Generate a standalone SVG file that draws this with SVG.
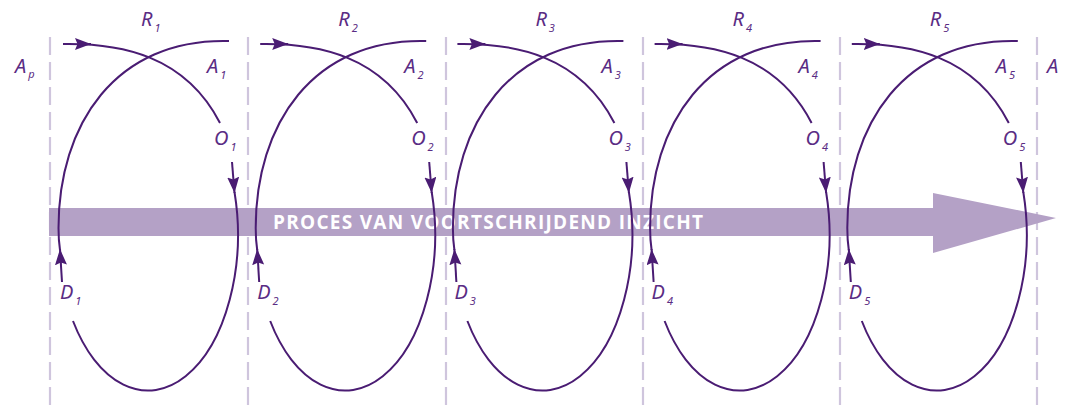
<svg xmlns="http://www.w3.org/2000/svg" width="1065" height="407" viewBox="0 0 1065 407">
<style>
.dash{stroke:#cfc5dd;stroke-width:2.2;stroke-dasharray:18 7;fill:none}
.curve{stroke:#4a1c73;stroke-width:2;fill:none}
.lead{stroke:#4a1c73;stroke-width:2;fill:none;marker-end:url(#ah)}
.lbl{font-family:"Noto Sans","Liberation Sans",sans-serif;font-style:italic;font-size:20px;fill:#5a2c84}
.sub{font-size:11px}
.band{fill:#b4a1c6}
.title{font-family:"Open Sans","Liberation Sans",sans-serif;font-weight:700;font-size:19px;fill:#ffffff}
</style>
<defs>
<marker id="ah" markerUnits="userSpaceOnUse" markerWidth="17" markerHeight="13" refX="16" refY="6" orient="auto">
<path d="M0,0 L16,6 L0,12 L2.5,6 z" fill="#4a1c73"/>
</marker>
<g id="loop">
<path class="curve" d="M63,44 C120,43 185,55 220,123"/>
<path class="lead" d="M78,44 L91,44"/>
<path class="lead" d="M232,162 L234.5,193"/>
<path class="curve" d="M234.5,192 A90,156 0 0 1 73,321"/>
<path class="lead" d="M62,282 L60,249"/>
<path class="curve" d="M60,250 Q58.5,240 58.5,228 C58.5,125 115,38 229,41"/>
</g>
</defs>
<g id="guides">
<line class="dash" x1="50" y1="37" x2="50" y2="407"/>
<line class="dash" x1="248" y1="37" x2="248" y2="407"/>
<line class="dash" x1="446" y1="37" x2="446" y2="407"/>
<line class="dash" x1="643" y1="37" x2="643" y2="407"/>
<line class="dash" x1="840" y1="37" x2="840" y2="407"/>
<line class="dash" x1="1037" y1="37" x2="1037" y2="407"/>
</g>
<g id="process-arrow">
<path class="band" d="M49,208 L933,208 L933,193 L1056,218 L933,253 L933,236 L49,236 z"/>
<text class="title" x="273" y="229" textLength="430" lengthAdjust="spacing">PROCES VAN VOORTSCHRIJDEND INZICHT</text>
</g>
<g id="connectors">
<use href="#loop"/>
<use href="#loop" x="197.2"/>
<use href="#loop" x="394.4"/>
<use href="#loop" x="591.6"/>
<use href="#loop" x="788.8"/>
</g>
<g id="label-Ap"><text class="lbl" x="15" y="73">A<tspan class="sub" dx="2" dy="5">p</tspan></text></g>
<g id="label-A-end"><text class="lbl" x="1047" y="73">A</text></g>
<g id="cycle-1">
<text class="lbl" x="141" y="26">R<tspan class="sub" dx="2" dy="6">1</tspan></text>
<text class="lbl" x="207" y="73">A<tspan class="sub" dx="2" dy="6">1</tspan></text>
<text class="lbl" x="214" y="145">O<tspan class="sub" dx="2" dy="6">1</tspan></text>
<text class="lbl" x="60" y="299">D<tspan class="sub" dx="2" dy="6">1</tspan></text>
</g>
<g id="cycle-2" transform="translate(197.2,0)">
<text class="lbl" x="141" y="26">R<tspan class="sub" dx="2" dy="6">2</tspan></text>
<text class="lbl" x="207" y="73">A<tspan class="sub" dx="2" dy="6">2</tspan></text>
<text class="lbl" x="214" y="145">O<tspan class="sub" dx="2" dy="6">2</tspan></text>
<text class="lbl" x="60" y="299">D<tspan class="sub" dx="2" dy="6">2</tspan></text>
</g>
<g id="cycle-3" transform="translate(394.4,0)">
<text class="lbl" x="141" y="26">R<tspan class="sub" dx="2" dy="6">3</tspan></text>
<text class="lbl" x="207" y="73">A<tspan class="sub" dx="2" dy="6">3</tspan></text>
<text class="lbl" x="214" y="145">O<tspan class="sub" dx="2" dy="6">3</tspan></text>
<text class="lbl" x="60" y="299">D<tspan class="sub" dx="2" dy="6">3</tspan></text>
</g>
<g id="cycle-4" transform="translate(591.6,0)">
<text class="lbl" x="141" y="26">R<tspan class="sub" dx="2" dy="6">4</tspan></text>
<text class="lbl" x="207" y="73">A<tspan class="sub" dx="2" dy="6">4</tspan></text>
<text class="lbl" x="214" y="145">O<tspan class="sub" dx="2" dy="6">4</tspan></text>
<text class="lbl" x="60" y="299">D<tspan class="sub" dx="2" dy="6">4</tspan></text>
</g>
<g id="cycle-5" transform="translate(788.8,0)">
<text class="lbl" x="141" y="26">R<tspan class="sub" dx="2" dy="6">5</tspan></text>
<text class="lbl" x="207" y="73">A<tspan class="sub" dx="2" dy="6">5</tspan></text>
<text class="lbl" x="214" y="145">O<tspan class="sub" dx="2" dy="6">5</tspan></text>
<text class="lbl" x="60" y="299">D<tspan class="sub" dx="2" dy="6">5</tspan></text>
</g>
</svg>
